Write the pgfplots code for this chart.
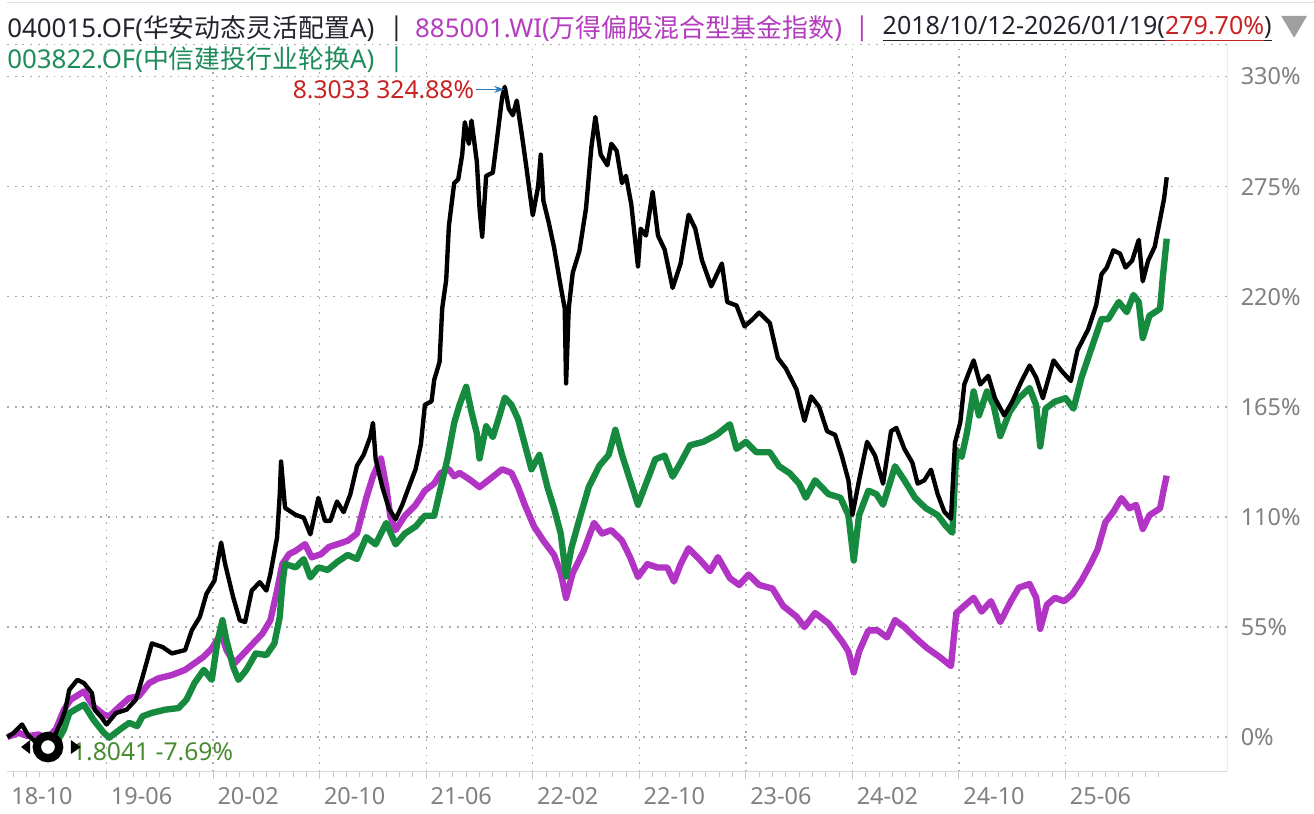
\documentclass[border=0pt]{standalone}
\usepackage{fontspec}
\setmainfont{Noto Sans}
\newfontfamily\cjk{Noto Sans CJK SC}
\usepackage{pgfplots}
\pgfplotsset{compat=1.18}
\usetikzlibrary{arrows.meta}
\definecolor{mag}{RGB}{178,52,196}
\definecolor{grn}{RGB}{22,138,62}
\definecolor{lblgray}{RGB}{128,128,128}
\definecolor{gridgray}{RGB}{170,170,170}
\definecolor{txtblack}{RGB}{35,35,45}
\definecolor{txtmag}{RGB}{180,60,190}
\definecolor{txtgrn}{RGB}{30,140,90}
\definecolor{peakred}{RGB}{200,35,35}
\definecolor{lowgrn}{RGB}{72,140,50}
\definecolor{arrowblue}{RGB}{45,125,190}
\newcommand\ul[1]{\setbox0\hbox{#1}\rlap{\rule[-3.2pt]{\wd0}{0.6pt}}\box0}
\begin{document}
\begin{tikzpicture}
\begin{axis}[
  at={(0pt,-22.5pt)}, anchor=north west,
  scale only axis, width=613.5pt, height=365.5pt,
  xmin=0.52, xmax=92.16, ymin=-17.39, ymax=345.9,
  clip=false,
  axis line style={draw=none},
  xtick={8,16,...,80},
  xticklabels={19-06,20-02,20-10,21-06,22-02,22-10,23-06,24-02,24-10,25-06},
  minor xtick={1,...,87},
  ytick={0,55,110,165,220,275,330},
  yticklabels={0\%,55\%,110\%,165\%,220\%,275\%,330\%},
  yticklabel pos=right,
  xtick pos=left,
  ytick style={draw=none},
  xtick style={draw=gray!45, line width=0.5pt},
  minor tick length=2.5pt, major tick length=3.5pt,
  tick align=outside,
  xmajorgrids, ymajorgrids,
  major grid style={gridgray, line width=0.7pt, dash pattern=on 0.9pt off 3pt},
  tick label style={font=\fontsize{11.8}{14}\selectfont, text=lblgray},
  xticklabel style={anchor=north west, inner sep=0pt, xshift=2pt, yshift=-4pt},
  yticklabel style={anchor=west, inner sep=0pt, xshift=3pt},
]
% 885001.WI
\addplot[mag, line width=3.2pt, line join=round] coordinates {
(0.55,0) (1.4,2.1) (2.1,0.5) (2.9,1.3) (3.5,-1) (4.2,4) (4.8,13.7) (5.3,18.7)
(6.3,22.8) (7.0,15.4) (7.8,11.2) (8.2,10.4) (9.0,15.4) (9.7,19.5) (10.4,20.3)
(11.2,27) (11.9,29.4) (12.9,31) (13.9,33.6) (14.6,36.9) (15.3,40.2) (15.9,44.3)
(16.6,51.7) (17.0,43.5) (17.6,36.9) (18.3,41.8) (19.0,46.8) (19.7,51.7) (20.3,58.4)
(20.8,73.2) (21.2,86.5) (21.7,91.4) (22.2,93.1) (22.9,96.4) (23.4,89.8) (24.1,91.4)
(24.7,95) (25.3,96.3) (26.1,98.1) (26.8,101.7) (27.5,119.5) (28.0,130.3) (28.6,139.2)
(29.0,124.9) (29.3,110.6) (29.7,103.4) (30.4,110.6) (31.2,116) (31.9,123.1) (32.6,126.7)
(33.1,132) (33.7,133.8) (34.1,130.3) (34.5,132) (35.3,128.5) (36.0,124.9) (36.7,128.5)
(37.7,133.8) (38.4,132) (38.9,124.9) (39.4,116) (40.1,105.2) (40.8,98.1) (41.6,91)
(42.1,82) (42.5,69.5) (43.0,82) (43.8,92.7) (44.6,107) (45.2,101.7) (45.9,103.4)
(46.7,98.1) (47.3,90) (47.9,80) (48.6,86.4) (49.4,84.7) (50.1,84.7) (50.6,77.7)
(51.1,86.4) (51.7,94.3) (52.6,88.2) (53.3,82.9) (53.9,89.9) (54.8,79.4) (55.5,76)
(56.2,81.2) (57.0,76) (58.0,74.2) (58.8,65.5) (59.8,60.2) (60.4,55) (61.2,62)
(62.2,56.8) (63.2,48) (63.7,42.8) (64.1,32.3) (64.5,42.8) (65.2,53.3) (65.9,53.3)
(66.6,49.8) (67.2,58.5) (67.9,55) (68.7,49.8) (69.6,44.5) (70.6,39.8) (71.4,35.5)
(71.8,62) (72.2,64.4) (73.1,69.6) (73.7,62.7) (74.4,67.9) (75.1,57.5) (75.9,67.9)
(76.5,74.7) (77.3,76.5) (77.8,69.6) (78.1,54.1) (78.6,66.1) (79.2,69.6) (79.9,67.9)
(80.5,71.3) (81.2,78.2) (81.9,86.8) (82.4,93.6) (83.0,107.4) (83.6,112.6) (84.2,119.4)
(84.8,114.3) (85.3,116) (85.8,104) (86.3,110.8) (87.1,114.3) (87.4,124.6) (87.6,130.6)
};
% 003822.OF
\addplot[grn, line width=3.2pt, line join=round] coordinates {
(3.9,0) (4.4,-1) (4.8,3.8) (5.2,12) (5.7,14) (6.3,16.2) (7.0,8.8) (7.8,2.1) (8.2,-0.3)
(9.0,3.8) (9.7,7.1) (10.3,5.5) (10.7,10.4) (11.4,12.1) (12.4,13.7) (13.4,14.5)
(14.0,18.7) (14.6,27) (15.3,33.6) (15.9,28.6) (16.3,46.8) (16.7,58.4) (17.0,48.4)
(17.5,35.2) (17.9,28.6) (18.5,33.6) (19.2,41.8) (20.0,41) (20.6,46.8) (21.0,60)
(21.2,76.5) (21.4,86.5) (22.2,84.8) (22.8,88.9) (23.3,79.8) (23.9,84.8) (24.6,83.5)
(25.3,87.4) (26.1,91) (26.8,89) (27.5,99.9) (28.2,96.3) (29.0,107) (29.7,96.3)
(30.4,101.7) (31.2,105.2) (31.9,110.6) (32.6,110.6) (33.1,124.9) (33.6,139.2)
(34.1,157) (34.5,166) (35.0,175) (35.4,162.4) (35.8,151.7) (36.0,139.2) (36.5,155.3)
(37.0,149.9) (37.5,160.6) (37.9,169.6) (38.4,166) (38.9,158.8) (39.4,146.3)
(39.9,133.8) (40.5,141) (41.1,124.9) (41.6,114.2) (42.1,101.7) (42.5,80.2) (42.9,94.5)
(43.5,108.8) (44.2,124.9) (45.0,135.6) (45.7,141) (46.2,153.5) (46.7,141) (47.3,128.5)
(47.9,116.1) (48.5,126.6) (49.2,138.8) (49.9,140.6) (50.5,130.1) (51.1,137.1)
(51.8,145.8) (52.8,147.5) (53.8,151) (54.8,156.3) (55.3,144) (56.0,147.5) (56.8,142.3)
(57.8,142.3) (58.5,135.3) (59.3,131.8) (60.0,126.6) (60.5,119.6) (61.2,128.3)
(62.2,121.4) (63.1,119.6) (63.7,110.9) (64.1,88.2) (64.5,110.9) (65.2,123.1)
(65.8,121.4) (66.3,116.1) (67.2,135.3) (67.9,128.3) (68.7,119.6) (69.5,114.4)
(70.4,110.9) (71.0,105.6) (71.5,102.1) (71.8,143.5) (72.2,140) (72.6,152.1)
(73.1,172.7) (73.5,160.7) (74.1,172.7) (74.6,165.8) (75.1,150.4) (75.8,162.4)
(76.5,169.3) (77.3,174.4) (77.8,165.8) (78.1,145.2) (78.5,164.1) (79.2,167.6)
(80.0,169.3) (80.6,164.1) (81.2,179.6) (81.9,193.3) (82.7,208.8) (83.2,208.8)
(84.0,217.4) (84.6,212.3) (85.1,220.9) (85.5,217.4) (85.8,199.4) (86.3,210.5)
(87.1,214) (87.3,229.4) (87.6,249)
};
% 040015.OF
\addplot[black, line width=2.2pt, line join=round] coordinates {
(0.55,0) (1.0,2) (1.65,6.3) (2.1,1) (2.6,-2) (3.0,-1) (3.6,-7.69) (4.2,2) (4.6,8)
(4.9,13.7) (5.2,23.6) (5.8,28.6) (6.3,27) (6.9,22) (7.1,13.7) (7.6,10) (8.0,6.3)
(8.7,12) (9.5,13.7) (10.2,18.7) (10.7,30) (11.4,46.8) (12.2,45) (12.9,41.8)
(13.9,43.5) (14.4,53.4) (15.0,60) (15.5,71.6) (16.1,78.2) (16.6,97.2) (16.9,86.5)
(17.5,70) (18.0,58.4) (18.4,57.5) (18.9,73.2) (19.5,77.4) (20.0,73.2) (20.3,81.5)
(20.8,99.7) (21.0,121) (21.1,137.7) (21.4,114.5) (22.2,111) (22.8,109.6) (23.3,101.3)
(23.9,119.5) (24.4,108) (24.8,108) (25.3,117.7) (25.8,112.4) (26.3,121.3) (26.8,135.6)
(27.3,141) (27.8,150) (28.0,157) (28.2,139) (28.7,125) (29.2,114.2) (29.7,108.8)
(30.2,116) (30.7,125) (31.2,133.8) (31.6,146.3) (31.9,166) (32.4,167.8) (32.6,178.5)
(33.0,187.4) (33.2,214.2) (33.5,228.5) (33.7,255.3) (34.1,276.8) (34.4,278.6)
(34.7,291) (34.9,307.2) (35.2,296.4) (35.4,308) (35.8,287.5) (36.0,264.3) (36.2,250)
(36.5,280.4) (37.0,282) (37.3,298) (37.7,319.7) (37.9,324.88) (38.2,314) (38.5,310.7)
(38.8,318) (39.2,300) (39.5,285.7) (40.0,260.7) (40.4,275) (40.6,291) (40.8,267.9)
(41.2,257) (41.6,244.6) (42.1,225) (42.4,214.2) (42.5,176.7) (42.7,214.2) (43.0,232)
(43.5,242.8) (44.0,264.3) (44.4,294.7) (44.7,309.8) (45.1,291) (45.6,285.7)
(45.9,296.4) (46.3,292.9) (46.7,276.8) (47.0,280.4) (47.4,266) (47.9,235) (48.1,254)
(48.5,250.6) (49.0,272.4) (49.4,250.6) (49.9,243.6) (50.5,224.4) (51.1,236.6)
(51.7,261) (52.2,254) (52.7,238.3) (53.4,225.2) (54.2,236.6) (54.6,217.4) (55.3,215.6)
(55.9,205.2) (56.5,208.7) (57.0,212.1) (57.8,206.9) (58.4,189.4) (59.0,184.2)
(59.8,173.7) (60.4,158) (60.9,170.2) (61.5,165) (62.1,152.8) (62.7,151) (63.2,140.6)
(63.7,128.3) (64.0,111) (64.5,128.3) (65.1,147.5) (65.7,140.6) (66.3,126.6)
(66.9,152.8) (67.3,154.5) (67.9,144) (68.5,137.1) (68.9,126.6) (69.4,128.3)
(69.9,133.6) (70.4,121.4) (70.9,112.6) (71.4,109.1) (71.7,147) (72.1,157.3)
(72.4,176.2) (73.1,188.2) (73.6,176.2) (74.2,180.5) (74.7,169.3) (75.4,160.7)
(76.0,167.6) (76.7,177.9) (77.3,185.6) (77.8,179.6) (78.3,169.3) (79.1,188.2)
(79.7,183) (80.4,177.9) (80.9,193.3) (81.7,203.7) (82.3,215.7) (82.7,231.2)
(83.1,234.6) (83.6,243.2) (84.1,241.5) (84.5,234.6) (85.0,238) (85.5,248.4)
(85.8,227.7) (86.2,238) (86.7,245) (87.1,258.7) (87.4,269) (87.6,279.7)
};
% frame
\draw[gray!30, line width=0.6pt] (rel axis cs:0,0) -- (rel axis cs:1,0);
\draw[gray!15, line width=0.6pt] (rel axis cs:1,0) -- (rel axis cs:1,1);
\draw[gridgray, line width=0.7pt, dash pattern=on 0.9pt off 3pt] (rel axis cs:0,1) -- (rel axis cs:1,1);
\node[anchor=north west, inner sep=0pt, xshift=2pt, yshift=-7.5pt, font=\fontsize{11.8}{14}\selectfont, text=lblgray] at (rel axis cs:0,0) {18-10};
% peak annotation
\node[anchor=east, inner sep=0pt, font=\fontsize{12.4}{14}\selectfont, text=peakred] at (axis cs:35.62,323.6) {8.3033 324.88\%};
\draw[arrowblue, line width=0.6pt, -{Stealth[length=5pt,width=3.5pt]}] (axis cs:35.75,323.6) -- (axis cs:37.85,323.6);
% low annotation with handle
\node[anchor=west, inner sep=0pt, font=\fontsize{12.4}{14}\selectfont, text=lowgrn] at (axis cs:5.38,-7.5) {1.8041 -7.69\%};
\begin{scope}[shift={(axis cs:3.6,-4.97)}, x=0.5pt, y=-0.5pt]
\fill[white] (0,0) circle [radius=3.6pt];
\draw[black, line width=4.2pt] (0,0) circle [radius=5.6pt];
\fill[black] (-27,0) -- (-18,-7) -- (-18,7) -- cycle;
\fill[black] (23,-7) -- (33,0) -- (23,7) -- cycle;
\end{scope}
\end{axis}
\begin{scope}[x=0.5pt, y=-0.5pt]
\useasboundingbox (0,0) rectangle (1314,818);
\draw[gray!25, line width=0.5pt] (0,3) -- (1314,3);
\begin{scope}[font=\fontsize{13}{15}\selectfont]
\node[anchor=west, inner sep=0pt, text=txtblack] at (0,29) {040015.OF({\cjk 华安动态灵活配置}A)};
\node[anchor=west, inner sep=0pt, text=txtblack] at (384,29) {|};
\node[anchor=west, inner sep=0pt, text=txtmag] at (410,29) {885001.WI({\cjk 万得偏股混合型基金指数})};
\node[anchor=west, inner sep=0pt, text=txtmag] at (852,29) {|};
\node[anchor=west, inner sep=0pt, text=txtblack] at (880,29) {\fontsize{12.6}{15}\selectfont\ul{2018/10/12-2026/01/19(}\textcolor{peakred}{\ul{279.70\%}}\ul{)}};
\node[anchor=west, inner sep=0pt, text=txtgrn] at (0,60) {003822.OF({\cjk 中信建投行业轮换}A)};
\node[anchor=west, inner sep=0pt, text=txtgrn] at (384,60) {|};
\end{scope}
\fill[gray!75] (1281,16) -- (1307,16) -- (1294,38) -- cycle;
\end{scope}
\end{tikzpicture}
\end{document}
